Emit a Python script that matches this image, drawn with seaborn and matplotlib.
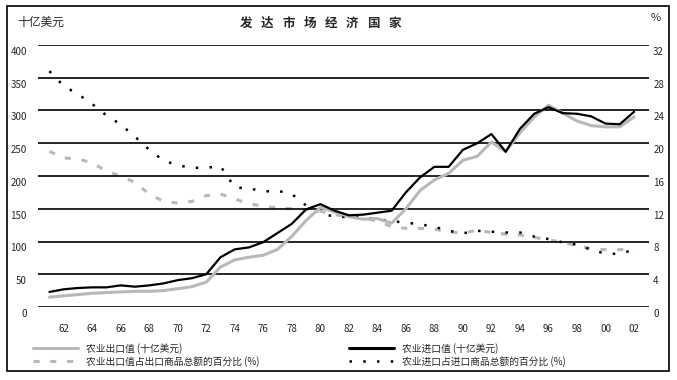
import numpy as np
import pandas as pd
import matplotlib
matplotlib.use("Agg")
import matplotlib.pyplot as plt
import matplotlib.transforms as mtransforms
from matplotlib.lines import Line2D
from matplotlib.patches import Rectangle
import seaborn as sns

# 数据
years = list(range(1961, 2003))
export_value = [15, 17, 19, 21, 22, 23, 24, 24, 25, 28, 31, 38, 61, 72, 76, 79, 88, 108, 132, 152,
                145, 138, 134, 135, 128, 150, 178, 194, 204, 224, 230, 252, 237, 266, 290, 308,
                296, 284, 277, 275, 275, 290]
import_value = [23, 27, 29, 30, 30, 33, 31, 33, 36, 41, 44, 50, 76, 88, 91, 99, 113, 127, 149, 157,
                147, 140, 141, 144, 147, 175, 198, 214, 214, 240, 250, 264, 237, 272, 295, 305,
                296, 295, 291, 280, 279, 298]
export_share = [19.0, 18.2, 18.1, 17.6, 16.6, 16.0, 15.2, 13.8, 12.9, 12.7, 12.9, 13.6, 13.8, 13.2,
                12.6, 12.3, 12.1, 12.0, 11.9, 11.7, 11.3, 11.0, 10.9, 10.5, 9.8, 9.6, 9.6, 9.5,
                9.2, 9.0, 9.4, 9.1, 8.9, 8.8, 8.5, 8.2, 7.9, 7.5, 7.1, 7.0, 7.0, 7.2]
import_share = [28.8, 27.0, 26.0, 24.8, 23.4, 22.3, 20.8, 19.2, 17.9, 17.3, 17.0, 17.0, 17.2, 14.6,
                14.5, 14.1, 14.2, 13.8, 12.4, 11.5, 11.0, 11.0, 10.9, 10.7, 10.5, 10.3, 10.1, 9.8,
                9.3, 9.0, 9.3, 9.2, 9.1, 9.1, 8.6, 8.3, 7.9, 7.6, 7.0, 6.5, 6.5, 7.0]

left_ticks = list(range(0, 401, 50))
right_ticks = list(range(0, 33, 4))
x_ticks = list(range(1962, 2003, 2))
x_labels = [f"{y % 100:02d}" for y in x_ticks]

labels = ["农业出口值 (十亿美元)", "农业出口值占出口商品总额的百分比 (%)",
          "农业进口值 (十亿美元)", "农业进口占进口商品总额的百分比 (%)"]

df = pd.DataFrame({"year": years, "exp": export_value, "imp": import_value,
                   "exp_pct": export_share, "imp_pct": import_share})

sns.set_style("white")
plt.rcParams['font.family'] = ['Noto Sans CJK SC', 'DejaVu Sans']

GRAY = "#b8b8b8"
DASH = (0, (2, 3.5))
DOT = (0, (1, 4.5))
W, H = 677, 380
fig = plt.figure(figsize=(W / 100, H / 100), dpi=100)
ax = fig.add_axes([38 / W, 1 - 307 / H, (649 - 38) / W, (307 - 45) / H])
ax2 = ax.twinx()

sns.lineplot(data=df, x="year", y="exp_pct", ax=ax2, color=GRAY, linewidth=2.2, linestyle=DASH)
sns.lineplot(data=df, x="year", y="imp_pct", ax=ax2, color="black", linewidth=1.8, linestyle=DOT)
sns.lineplot(data=df, x="year", y="exp", ax=ax, color=GRAY, linewidth=2.2)
sns.lineplot(data=df, x="year", y="imp", ax=ax, color="black", linewidth=1.6)
ax.set_zorder(ax2.get_zorder() + 1)
ax.patch.set_visible(False)

ax.set_xlim(1960.2, 2003.05)
ax.set_ylim(0, 400)
ax2.set_ylim(0, 32)
for a in (ax, ax2):
    a.set_xlabel("")
    a.set_ylabel("")
    for s in a.spines.values():
        s.set_visible(False)

for v in left_ticks:
    ax.axhline(v, color="black", linewidth=1.2, zorder=0)

ax.set_xticks(x_ticks)
ax.set_xticklabels(x_labels)
ax.set_yticks(left_ticks)
ax.set_yticklabels([str(v) for v in left_ticks])
ax2.set_yticks(right_ticks)
ax2.set_yticklabels([str(v) for v in right_ticks])
ax.tick_params(axis="x", length=0, pad=12, labelsize=7)
ax.tick_params(axis="y", length=0, pad=8, labelsize=7)
ax2.tick_params(axis="y", length=0, pad=3, labelsize=7)

off = mtransforms.ScaledTranslation(0, -6 / 100, fig.dpi_scale_trans)
for lab in ax.get_yticklabels() + ax2.get_yticklabels():
    lab.set_transform(lab.get_transform() + off)

# 标题与单位
title = "发达市场经济国家"
for i, ch in enumerate(title):
    fig.text((246 + i * 21.2) / W, 1 - 23 / H, ch, ha="center", va="center",
             fontsize=9, fontweight="bold")
fig.text(17 / W, 1 - 22 / H, "十亿美元", ha="left", va="center", fontsize=8.5)
fig.text(656 / W, 1 - 18 / H, "%", ha="center", va="center", fontsize=8)

# 图例
h1 = Line2D([], [], color=GRAY, linewidth=2.2)
h2 = Line2D([], [], color=GRAY, linewidth=2.2, linestyle=DASH)
h3 = Line2D([], [], color="black", linewidth=2.2)
h4 = Line2D([], [], color="black", linewidth=1.8, linestyle=DOT)
leg_kw = dict(loc="upper left", frameon=False, fontsize=7, handlelength=4.6,
              handletextpad=0.8, labelspacing=0.2, borderpad=0, borderaxespad=0)
fig.legend([h1, h2], labels[:2], bbox_to_anchor=(33 / W, 1 - 343 / H), **leg_kw)
fig.legend([h3, h4], labels[2:], bbox_to_anchor=(349 / W, 1 - 343 / H), **leg_kw)

# 外框
fig.patches.append(Rectangle((7 / W, 1 - 371 / H), 662 / W, 365 / H, transform=fig.transFigure,
                             fill=False, edgecolor="black", linewidth=1.2))

fig.savefig("out.png", dpi=100)
